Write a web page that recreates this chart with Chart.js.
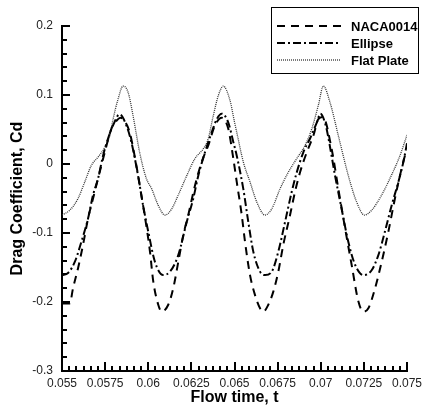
<!DOCTYPE html>
<html>
<head>
<meta charset="utf-8">
<title>Drag Coefficient vs Flow time</title>
<script src="https://cdn.jsdelivr.net/npm/chart.js@4.4.1/dist/chart.umd.min.js"></script>
<style>
  html, body { margin: 0; padding: 0; background: #fff; }
  #wrap { width: 424px; height: 408px; }
</style>
</head>
<body>
<div id="wrap"><canvas id="cdChart" width="424" height="408"></canvas></div>
<script>
// Drag coefficient histories (flow time in s, Cd)
const nacaTime = [0.05500, 0.05545, 0.05564, 0.05593, 0.05622, 0.05651, 0.05680, 0.05709, 0.05748, 0.05786,
  0.05825, 0.05840, 0.05854, 0.05892, 0.05931, 0.05960, 0.05991, 0.06010, 0.06029, 0.06058,
  0.06078, 0.06116, 0.06145, 0.06174, 0.06203, 0.06232, 0.06271, 0.06310, 0.06348, 0.06387,
  0.06426, 0.06464, 0.06493, 0.06513, 0.06542, 0.06561, 0.06590, 0.06619, 0.06648, 0.06667,
  0.06696, 0.06725, 0.06754, 0.06783, 0.06822, 0.06851, 0.06880, 0.06919, 0.06957, 0.06986,
  0.07013, 0.07063, 0.07102, 0.07141, 0.07179, 0.07218, 0.07247, 0.07276, 0.07315, 0.07353,
  0.07392, 0.07430, 0.07459, 0.07488, 0.07500];
const nacaCd = [-0.202, -0.202, -0.180, -0.151, -0.117, -0.079, -0.050, -0.021, 0.017, 0.051,
  0.065, 0.067, 0.065, 0.046, -0.002, -0.045, -0.093, -0.127, -0.170, -0.204,
  -0.214, -0.204, -0.180, -0.142, -0.103, -0.074, -0.031, 0.003, 0.027, 0.056,
  0.067, 0.051, 0.008, -0.026, -0.074, -0.113, -0.161, -0.190, -0.209, -0.214,
  -0.204, -0.185, -0.156, -0.117, -0.074, -0.040, -0.012, 0.017, 0.041, 0.065,
  0.068, 0.022, -0.036, -0.093, -0.146, -0.199, -0.214, -0.209, -0.180, -0.142,
  -0.098, -0.050, -0.017, 0.012, 0.020];

const ellipseTime = [0.05500, 0.05535, 0.05574, 0.05612, 0.05651, 0.05680, 0.05709, 0.05738, 0.05767, 0.05796,
  0.05834, 0.05873, 0.05902, 0.05941, 0.05970, 0.06000, 0.06039, 0.06087, 0.06126, 0.06174,
  0.06223, 0.06261, 0.06290, 0.06329, 0.06368, 0.06397, 0.06426, 0.06464, 0.06493, 0.06513,
  0.06551, 0.06580, 0.06609, 0.06648, 0.06677, 0.06716, 0.06754, 0.06793, 0.06832, 0.06861,
  0.06899, 0.06938, 0.06977, 0.06998, 0.07030, 0.07050, 0.07083, 0.07121, 0.07160, 0.07199,
  0.07247, 0.07295, 0.07334, 0.07372, 0.07411, 0.07450, 0.07479, 0.07500];
const ellipseCd = [-0.161, -0.158, -0.142, -0.113, -0.079, -0.045, -0.021, 0.012, 0.037, 0.056,
  0.072, 0.056, 0.032, -0.017, -0.060, -0.098, -0.142, -0.161, -0.156, -0.132,
  -0.084, -0.050, -0.017, 0.017, 0.046, 0.065, 0.073, 0.060, 0.032, 0.012,
  -0.036, -0.084, -0.127, -0.156, -0.161, -0.156, -0.127, -0.084, -0.040, -0.012,
  0.017, 0.037, 0.060, 0.073, 0.055, 0.030, -0.017, -0.065, -0.113, -0.146,
  -0.161, -0.154, -0.132, -0.098, -0.060, -0.026, 0.003, 0.030];

const plateTime = [0.05500, 0.05545, 0.05593, 0.05632, 0.05670, 0.05709, 0.05748, 0.05777, 0.05796, 0.05825,
  0.05854, 0.05883, 0.05912, 0.05950, 0.05989, 0.06020, 0.06058, 0.06097, 0.06136, 0.06174,
  0.06223, 0.06271, 0.06319, 0.06348, 0.06377, 0.06406, 0.06435, 0.06474, 0.06499, 0.06513,
  0.06551, 0.06590, 0.06629, 0.06677, 0.06716, 0.06764, 0.06812, 0.06861, 0.06909, 0.06948,
  0.06986, 0.07015, 0.07054, 0.07102, 0.07160, 0.07208, 0.07253, 0.07295, 0.07353, 0.07401,
  0.07459, 0.07500];
const plateCd = [-0.074, -0.067, -0.050, -0.026, -0.002, 0.010, 0.024, 0.041, 0.065, 0.094,
  0.113, 0.104, 0.070, 0.017, -0.021, -0.036, -0.060, -0.074, -0.065, -0.045,
  -0.017, 0.008, 0.022, 0.037, 0.070, 0.099, 0.113, 0.092, 0.062, 0.046,
  0.003, -0.026, -0.055, -0.074, -0.065, -0.036, -0.012, 0.008, 0.027, 0.051,
  0.085, 0.113, 0.089, 0.041, -0.017, -0.055, -0.074, -0.067, -0.045, -0.021,
  0.012, 0.042];

// axis ranges
const xMin = 0.055, xMax = 0.075, xStep = 0.0025;
const yMin = -0.3, yMax = 0.2, yStep = 0.1;

const FONT = '"Liberation Sans", Arial, Helvetica, sans-serif';

function toPoints(t, v) {
  return t.map((tt, i) => ({ x: tt, y: v[i] }));
}

// small inward tick marks (major + minor) along left and bottom axes
const innerTicks = {
  id: 'innerTicks',
  afterDatasetsDraw(chart) {
    const { ctx, chartArea: a, scales: { x, y } } = chart;
    ctx.save();
    ctx.strokeStyle = '#000';
    ctx.lineWidth = 2;
    ctx.beginPath();
    const nx = Math.round((xMax - xMin) / xStep) * 6;
    for (let i = 0; i <= nx; i++) {
      const px = Math.round(x.getPixelForValue(xMin + i * xStep / 6));
      const len = i % 6 === 0 ? 9 : 5;
      ctx.moveTo(px, a.bottom);
      ctx.lineTo(px, a.bottom - len);
    }
    const ny = Math.round((yMax - yMin) / yStep) * 5;
    for (let i = 0; i <= ny; i++) {
      const py = Math.round(y.getPixelForValue(yMin + i * yStep / 5));
      const len = i % 5 === 0 ? 8 : 5;
      ctx.moveTo(a.left, py);
      ctx.lineTo(a.left + len, py);
    }
    ctx.stroke();
    ctx.restore();
  }
};

// boxed legend in the top right corner
const boxLegend = {
  id: 'boxLegend',
  afterDraw(chart) {
    const ctx = chart.ctx;
    ctx.save();
    ctx.fillStyle = '#fff';
    ctx.fillRect(271.5, 7.5, 147, 66);
    ctx.strokeStyle = '#000';
    ctx.lineWidth = 1;
    ctx.strokeRect(271.5, 7.5, 147, 66);
    chart.data.datasets.forEach((ds, i) => {
      const yy = 26 + i * 17;
      ctx.strokeStyle = ds.borderColor;
      ctx.lineWidth = ds.borderWidth;
      ctx.setLineDash(ds.borderDash || []);
      ctx.beginPath();
      ctx.moveTo(277, yy);
      ctx.lineTo(341, yy);
      ctx.stroke();
      ctx.setLineDash([]);
      ctx.fillStyle = '#000';
      ctx.font = 'bold 13px ' + FONT;
      ctx.textBaseline = 'middle';
      ctx.textAlign = 'left';
      ctx.fillText(ds.label, 351, yy + 1);
    });
    ctx.restore();
  }
};

const ctx = document.getElementById('cdChart').getContext('2d');
Chart.defaults.font.family = FONT;

new Chart(ctx, {
  type: 'line',
  data: {
    datasets: [
      {
        label: 'NACA0014',
        data: toPoints(nacaTime, nacaCd),
        borderColor: '#000',
        borderWidth: 2,
        borderDash: [8, 6],
        cubicInterpolationMode: 'monotone'
      },
      {
        label: 'Ellipse',
        data: toPoints(ellipseTime, ellipseCd),
        borderColor: '#000',
        borderWidth: 2,
        borderDash: [8, 3, 2, 3],
        cubicInterpolationMode: 'monotone'
      },
      {
        label: 'Flat Plate',
        data: toPoints(plateTime, plateCd),
        borderColor: '#333',
        borderWidth: 1.3,
        borderDash: [1, 1],
        cubicInterpolationMode: 'monotone'
      }
    ]
  },
  options: {
    responsive: false,
    animation: false,
    layout: { padding: { top: 26, right: 17, left: 0, bottom: 0 } },
    elements: { point: { radius: 0 } },
    plugins: {
      legend: { display: false },
      tooltip: { enabled: false }
    },
    scales: {
      x: {
        type: 'linear',
        min: xMin,
        max: xMax,
        grid: { display: false, drawTicks: false },
        border: { display: true, color: '#000', width: 2 },
        ticks: {
          stepSize: xStep,
          autoSkip: false,
          maxRotation: 0,
          padding: 5,
          color: '#222',
          font: { size: 12 },
          callback: v => String(+v.toFixed(4))
        },
        title: {
          display: true,
          text: 'Flow time, t',
          color: '#000',
          font: { size: 16, weight: 'bold' },
          padding: { top: 0, bottom: 1 }
        },
        afterFit: s => { s.height = 37; s.paddingLeft = 0; s.paddingRight = 0; }
      },
      y: {
        min: yMin,
        max: yMax,
        grid: { display: false, drawTicks: false },
        border: { display: true, color: '#000', width: 2 },
        ticks: {
          stepSize: yStep,
          padding: 9,
          color: '#222',
          font: { size: 12 },
          callback: v => String(+v.toFixed(2))
        },
        title: {
          display: true,
          text: 'Drag Coefficient, Cd',
          color: '#000',
          font: { size: 16, weight: 'bold' },
          padding: { top: 8, bottom: 0 }
        },
        afterFit: s => { s.width = 62; s.paddingTop = 0; s.paddingBottom = 0; }
      }
    }
  },
  plugins: [innerTicks, boxLegend]
});
</script>
</body>
</html>
